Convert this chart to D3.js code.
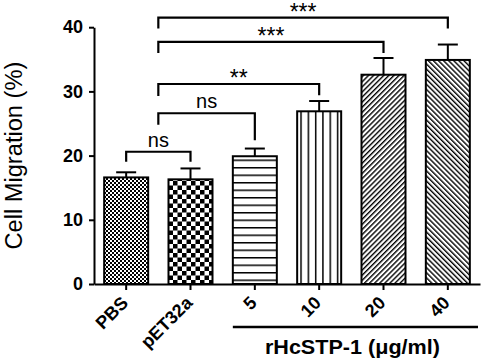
<!DOCTYPE html>
<html>
<head>
<meta charset="utf-8">
<script src="https://cdn.jsdelivr.net/npm/d3@7"></script>
<style>
  body { margin: 0; background: #fff; }
  svg { display: block; font-family: Arial, "Liberation Sans", sans-serif; }
</style>
</head>
<body>
<script>
let categories = ["PBS", "pET32a", "5", "10", "20", "40"];
let means = [16.6, 16.3, 19.9, 26.9, 32.6, 34.9];
let errors = [0.8, 1.7, 1.2, 1.6, 2.6, 2.4];
let yTicks = [0, 10, 20, 30, 40];

// significance brackets (left/right given as category index, 0.5 = between PBS and pET32a)
let compLabels = ["ns", "ns", "**", "***", "***"];
let compStart = [0, 0.5, 0.5, 0.5, 0.5];
let compEnd = [1, 2, 3, 4, 5];
let compLevel = [20.6, 26.6, 31.15, 37.7, 41.5];
let compLeftTip = [19.05, 24.8, 29.3, 36.0, 39.8];
let compRightTip = [19.05, 22.4, 29.4, 36.0, 39.8];

let groupTitle = "rHcSTP-1 (\u03bcg/ml)";
let yTitle = "Cell Migration (%)";

let width = 482;
let height = 363;
let font = "Arial, 'Liberation Sans', sans-serif";

let svg = d3.select("body").append("svg").attr("width", width).attr("height", height);

let y = d3.scaleLinear().domain([0, 40]).range([284, 27.2]);
let x = d3.scaleBand().domain(categories).range([94, 480]).paddingInner(0.316).paddingOuter(0.158);
let bw = x.bandwidth();
let step = x.step();
let posAt = (i) => x(categories[0]) + bw / 2 + i * step;

// fill patterns
let defs = svg.append("defs");

let p1 = defs.append("pattern").attr("id", "pat0").attr("patternUnits", "userSpaceOnUse")
    .attr("width", 4).attr("height", 4);
p1.append("rect").attr("width", 4).attr("height", 4).attr("fill", "#fff");
p1.append("rect").attr("width", 2).attr("height", 2).attr("fill", "#000");
p1.append("rect").attr("x", 2).attr("y", 2).attr("width", 2).attr("height", 2).attr("fill", "#000");

let p2 = defs.append("pattern").attr("id", "pat1").attr("patternUnits", "userSpaceOnUse")
    .attr("width", 9).attr("height", 9).attr("x", 2).attr("y", 1);
p2.append("rect").attr("width", 9).attr("height", 9).attr("fill", "#fff");
p2.append("rect").attr("width", 4.5).attr("height", 4.5).attr("fill", "#000");
p2.append("rect").attr("x", 4.5).attr("y", 4.5).attr("width", 4.5).attr("height", 4.5).attr("fill", "#000");

let p3 = defs.append("pattern").attr("id", "pat2").attr("patternUnits", "userSpaceOnUse")
    .attr("width", 10).attr("height", 7.5).attr("y", 2);
p3.append("rect").attr("width", 10).attr("height", 7.5).attr("fill", "#fff");
p3.append("line").attr("x1", 0).attr("x2", 10).attr("y1", 0.75).attr("y2", 0.75)
    .attr("stroke", "#000").attr("stroke-width", 1.5);

let p4 = defs.append("pattern").attr("id", "pat3").attr("patternUnits", "userSpaceOnUse")
    .attr("width", 7.3).attr("height", 10).attr("x", 1);
p4.append("rect").attr("width", 7.3).attr("height", 10).attr("fill", "#fff");
p4.append("line").attr("y1", 0).attr("y2", 10).attr("x1", 0.75).attr("x2", 0.75)
    .attr("stroke", "#000").attr("stroke-width", 1.5);

[["pat4", 45], ["pat5", -45]].forEach(([id, ang]) => {
    let p = defs.append("pattern").attr("id", id).attr("patternUnits", "userSpaceOnUse")
        .attr("width", 3.6).attr("height", 10).attr("patternTransform", `rotate(${ang})`);
    p.append("rect").attr("width", 3.6).attr("height", 10).attr("fill", "#fff");
    p.append("line").attr("y1", 0).attr("y2", 10).attr("x1", 0.7).attr("x2", 0.7)
        .attr("stroke", "#000").attr("stroke-width", 1.4);
});

let chart = svg.append("g");

// bars
chart.selectAll("rect.bar")
    .data(categories)
    .enter().append("rect")
    .attr("class", "bar")
    .attr("x", (d) => x(d))
    .attr("y", (d, i) => y(means[i]))
    .attr("width", bw)
    .attr("height", (d, i) => y(0) - y(means[i]))
    .attr("fill", (d, i) => `url(#pat${i})`)
    .attr("stroke", "#000")
    .attr("stroke-width", 2);

// error bars (upper only)
let eb = chart.selectAll("g.err").data(categories).enter().append("g").attr("class", "err");
eb.append("line")
    .attr("x1", (d) => x(d) + bw / 2).attr("x2", (d) => x(d) + bw / 2)
    .attr("y1", (d, i) => y(means[i])).attr("y2", (d, i) => y(means[i] + errors[i]))
    .attr("stroke", "#000").attr("stroke-width", 2);
eb.append("line")
    .attr("x1", (d) => x(d) + bw / 2 - 10).attr("x2", (d) => x(d) + bw / 2 + 10)
    .attr("y1", (d, i) => y(means[i] + errors[i])).attr("y2", (d, i) => y(means[i] + errors[i]))
    .attr("stroke", "#000").attr("stroke-width", 2);

// axes
let yAxis = d3.axisLeft(y).tickValues(yTicks).tickSize(5).tickSizeOuter(0).tickPadding(6);
let xAxis = d3.axisBottom(x).tickSize(6).tickSizeOuter(0);

let gy = chart.append("g").attr("transform", "translate(94,0)").call(yAxis);
gy.selectAll("text").style("font-size", "18px").style("font-weight", "bold")
    .style("font-family", font).attr("fill", "#000");

let gx = chart.append("g").attr("transform", `translate(0,${y(0)})`).call(xAxis);
gx.selectAll("text")
    .attr("x", 0).attr("y", 0).attr("dy", 0)
    .attr("transform", "translate(3,20) rotate(-45)")
    .style("text-anchor", "end")
    .style("font-size", "18px").style("font-weight", "bold")
    .style("font-family", font).attr("fill", "#000");

[gx, gy].forEach((g) => {
    g.select(".domain").attr("stroke-width", 2).attr("stroke", "#000");
    g.selectAll(".tick line").attr("stroke-width", 2).attr("stroke", "#000");
});

// y title
svg.append("text")
    .attr("transform", `translate(22,${(y(0) + y(40)) / 2}) rotate(-90)`)
    .attr("text-anchor", "middle")
    .attr("textLength", 188)
    .attr("lengthAdjust", "spacingAndGlyphs")
    .style("font-size", "23px")
    .text(yTitle);

// group label under concentrations
let gStart = x("5");
let gEnd = x.range()[1] - 2;
svg.append("line")
    .attr("x1", gStart).attr("x2", gEnd).attr("y1", 327).attr("y2", 327)
    .attr("stroke", "#000").attr("stroke-width", 2.5);
svg.append("text")
    .attr("x", (gStart + gEnd) / 2 - 3).attr("y", 354)
    .attr("text-anchor", "middle")
    .attr("textLength", 175)
    .attr("lengthAdjust", "spacingAndGlyphs")
    .style("font-size", "21px").style("font-weight", "bold")
    .text(groupTitle);

// significance brackets
let br = chart.selectAll("g.bracket").data(compLabels).enter().append("g").attr("class", "bracket");
br.append("path")
    .attr("d", (d, i) => {
        let x1 = posAt(compStart[i]);
        let x2 = posAt(compEnd[i]);
        return `M${x1},${y(compLeftTip[i])}V${y(compLevel[i])}H${x2}V${y(compRightTip[i])}`;
    })
    .attr("fill", "none").attr("stroke", "#000").attr("stroke-width", 2.2);
br.append("text")
    .attr("x", (d, i) => (posAt(compStart[i]) + posAt(compEnd[i])) / 2)
    .attr("y", (d, i) => y(compLevel[i]) + (d === "ns" ? -5 : 2))
    .attr("text-anchor", "middle")
    .style("font-size", (d) => (d === "ns" ? "20px" : "23px"))
    .text((d) => d);
</script>
</body>
</html>
